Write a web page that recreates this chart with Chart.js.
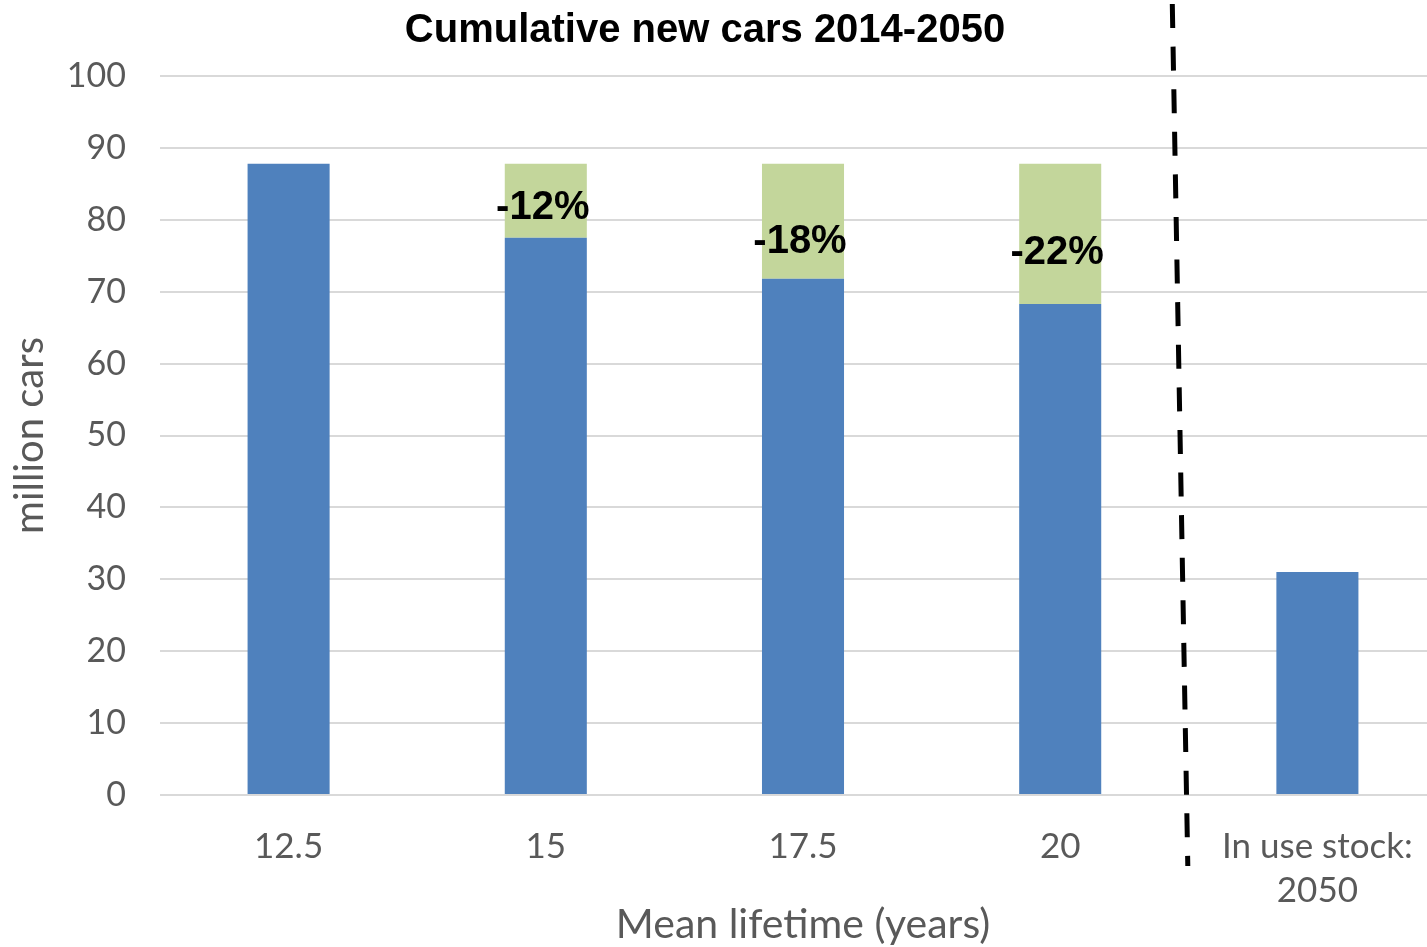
<!DOCTYPE html>
<html>
<head>
<meta charset="utf-8">
<script src="https://cdn.jsdelivr.net/npm/chart.js@4.4.1/dist/chart.umd.min.js"></script>
<style>
  html, body { margin: 0; padding: 0; background: #ffffff; overflow: hidden; }
  canvas { display: block; }
</style>
</head>
<body>
<canvas id="chart" width="1446" height="947"></canvas>
<script>
// Mean car lifetime scenarios plus the 2050 in-use stock
const categories = ['12.5', '15', '17.5', '20', ['In use stock:', '2050']];
// Cumulative new cars 2014-2050 (million cars)
const newCars = [87.8, 77.5, 71.8, 68.3, 31.0];
// Reduction relative to the 12.5-year case (million cars)
const avoidedCars = [0, 10.3, 16.0, 19.5, 0];
// Value axis
const yMin = 0, yMax = 100, yStep = 10;
// Height (in million cars) at which each reduction label sits
const reductionLabelLevel = [null, 81.6, 76.9, 75.4, null];

const GREY = '#595959';
const UI_FONT = 'Lato, "Open Sans", sans-serif';
const BOLD_FONT = '"Liberation Sans", Arial, sans-serif';

const overlay = {
  id: 'overlay',
  afterDraw(chart) {
    const { ctx } = chart;
    const x = chart.scales.x, y = chart.scales.y;

    // Chart heading
    ctx.save();
    ctx.fillStyle = '#000000';
    ctx.font = 'bold 40px ' + BOLD_FONT;
    ctx.textAlign = 'center';
    ctx.textBaseline = 'middle';
    ctx.fillText('Cumulative new cars 2014-2050', 705, 31);
    ctx.restore();

    // Percentage reduction labels on the stacked segments
    ctx.save();
    ctx.fillStyle = '#000000';
    ctx.font = 'bold 40px ' + BOLD_FONT;
    ctx.textAlign = 'center';
    ctx.textBaseline = 'middle';
    for (let i = 0; i < newCars.length; i++) {
      if (reductionLabelLevel[i] == null) continue;
      const total = newCars[i] + avoidedCars[i];
      const pct = Math.round((newCars[i] / total - 1) * 100);
      ctx.fillText(pct + '%', x.getPixelForValue(i) - 3, y.getPixelForValue(reductionLabelLevel[i]));
    }
    ctx.restore();

    // Dashed separator between the scenarios and the stock bar
    const sep = (x.getPixelForValue(3) + x.getPixelForValue(4)) / 2;
    ctx.save();
    ctx.strokeStyle = '#000000';
    ctx.lineWidth = 5;
    ctx.setLineDash([24, 18.6]);
    ctx.beginPath();
    ctx.moveTo(sep - 16.5, 4);
    ctx.lineTo(sep - 1, 866);
    ctx.stroke();
    ctx.restore();
  }
};

new Chart(document.getElementById('chart'), {
  type: 'bar',
  data: {
    labels: categories,
    datasets: [
      {
        label: 'New cars',
        data: newCars,
        backgroundColor: '#4F81BD',
        borderWidth: 0,
        stack: 's'
      },
      {
        label: 'Reduction',
        data: avoidedCars,
        backgroundColor: '#C3D69B',
        borderWidth: 0,
        stack: 's'
      }
    ]
  },
  options: {
    responsive: false,
    animation: false,
    layout: { padding: { top: 76, left: 0, right: 0, bottom: 0 } },
    datasets: {
      bar: { categoryPercentage: 1, barPercentage: 0.319 }
    },
    plugins: {
      legend: { display: false },
      title: { display: false },
      tooltip: { enabled: false }
    },
    scales: {
      x: {
        stacked: true,
        grid: { display: false, drawTicks: false },
        border: { display: false },
        ticks: {
          color: GREY,
          font: { family: UI_FONT, size: 35, lineHeight: 1.26 },
          padding: 30,
          maxRotation: 0,
          autoSkip: false
        },
        title: {
          display: true,
          text: 'Mean lifetime (years)',
          color: GREY,
          font: { family: UI_FONT, size: 41, lineHeight: 1.0 },
          padding: { top: 0, bottom: 1.5 }
        },
        afterFit(scale) { scale.height = 152; }
      },
      y: {
        stacked: true,
        min: yMin,
        max: yMax,
        grid: { color: '#D9D9D9', lineWidth: 2, drawTicks: false },
        border: { display: false },
        ticks: {
          stepSize: yStep,
          color: GREY,
          font: { family: UI_FONT, size: 34 },
          padding: 34
        },
        title: {
          display: true,
          text: 'million cars',
          color: GREY,
          font: { family: UI_FONT, size: 40, lineHeight: 1.2 },
          padding: { top: 6, bottom: 0 }
        },
        afterFit(scale) { scale.width = 160; }
      }
    }
  },
  plugins: [overlay]
});
</script>
</body>
</html>
